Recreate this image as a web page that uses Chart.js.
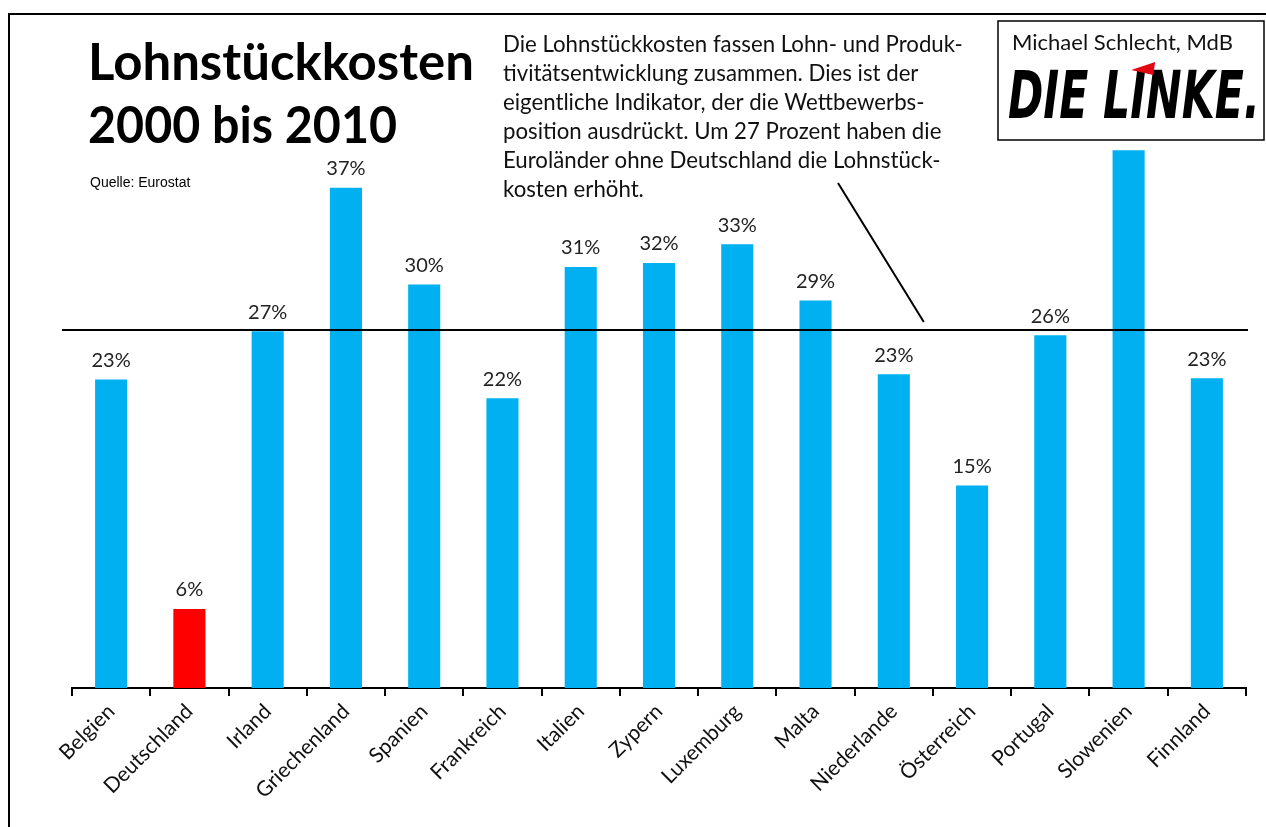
<!DOCTYPE html>
<html>
<head>
<meta charset="utf-8">
<script src="https://cdn.jsdelivr.net/npm/chart.js@4/dist/chart.umd.min.js"></script>
<style>
  html, body { margin: 0; padding: 0; background: #fff; }
  canvas { display: block; }
</style>
</head>
<body>
<canvas id="chart" width="1266" height="827"></canvas>
<script>
// data (percent change 2000-2010)
const countries = ['Belgien', 'Deutschland', 'Irland', 'Griechenland', 'Spanien', 'Frankreich', 'Italien',
    'Zypern', 'Luxemburg', 'Malta', 'Niederlande', 'Österreich', 'Portugal', 'Slowenien', 'Finnland'];
const costIncrease = [23.0, 5.9, 26.6, 37.3, 30.1, 21.6, 31.4, 31.7, 33.1, 28.9, 23.4, 15.1, 26.3, 40.1, 23.1];
const euroAverage = 26.7;   // Euroländer ohne Deutschland
const highlighted = 'Deutschland';

const titleLines = ['Lohnstückkosten', '2000 bis 2010'];
const sourceText = 'Quelle: Eurostat';
const noteLines = [
    'Die Lohnstückkosten fassen Lohn- und Produk-',
    'tivitätsentwicklung zusammen. Dies ist der',
    'eigentliche Indikator, der die Wettbewerbs-',
    'position ausdrückt. Um 27 Prozent haben die',
    'Euroländer ohne Deutschland die Lohnstück-',
    'kosten erhöht.'
];
const authorText = 'Michael Schlecht, MdB';
const partyText = 'DIE LINKE.';

const BLUE = '#00B0F0';
const RED = '#FF0000';
const FONT = 'Lato';

// fit a font size so that text gets a wanted width
function fitFont(ctx, text, style, family, width) {
    ctx.font = style + ' 100px ' + family;
    var w = ctx.measureText(text).width;
    return 100 * width / w;
}

const decor = {
    id: 'decor',
    beforeDraw(chart) {
        var ctx = chart.ctx;
        ctx.save();
        ctx.fillStyle = '#fff';
        ctx.fillRect(0, 0, chart.width, chart.height);
        // outer frame
        ctx.strokeStyle = '#000';
        ctx.lineWidth = 2;
        ctx.beginPath();
        ctx.moveTo(9, chart.height);
        ctx.lineTo(9, 14);
        ctx.lineTo(chart.width, 14);
        ctx.stroke();

        // title
        ctx.fillStyle = '#000';
        ctx.textBaseline = 'alphabetic';
        var ts = fitFont(ctx, titleLines[0], 'bold', FONT, 386);
        ctx.font = 'bold ' + ts + 'px ' + FONT;
        ctx.fillText(titleLines[0], 88, 80);
        ctx.save();
        ctx.translate(88, 143);
        ctx.scale(0.95, 1);
        ctx.fillText(titleLines[1], 0, 0);
        ctx.restore();

        ctx.font = '14px "Liberation Sans"';
        ctx.fillText(sourceText, 90, 187);

        // note text
        var ns = fitFont(ctx, noteLines[0], 'normal', FONT, 460);
        ctx.font = ns + 'px ' + FONT;
        ctx.fillStyle = '#111';
        noteLines.forEach(function (l, i) {
            ctx.fillText(l, 503, 52 + i * 29);
        });
        ctx.restore();
    },
    afterDatasetsDraw(chart) {
        var ctx = chart.ctx;
        var x = chart.scales.x, y = chart.scales.y;
        var area = chart.chartArea;
        ctx.save();

        // average line
        var ya = y.getPixelForValue(euroAverage);
        ctx.strokeStyle = '#000';
        ctx.lineWidth = 2;
        ctx.beginPath();
        ctx.moveTo(area.left - 10, ya);
        ctx.lineTo(area.right + 2, ya);
        ctx.stroke();

        // pointer from the note to the line
        var px = x.getPixelForValue(10) + 30;
        ctx.beginPath();
        ctx.moveTo(838, 183);
        ctx.lineTo(px, ya - 8);
        ctx.stroke();

        // value labels
        ctx.font = '20px ' + FONT;
        ctx.fillStyle = '#222';
        ctx.textAlign = 'center';
        ctx.textBaseline = 'bottom';
        var meta = chart.getDatasetMeta(0);
        meta.data.forEach(function (bar, i) {
            ctx.fillText(Math.round(costIncrease[i]) + '%', bar.x, bar.y - 9);
        });
        ctx.restore();
    },
    afterDraw(chart) {
        var ctx = chart.ctx;
        ctx.save();
        // logo box
        ctx.fillStyle = '#fff';
        ctx.fillRect(998, 21, 266, 119);
        ctx.strokeStyle = '#000';
        ctx.lineWidth = 1.5;
        ctx.strokeRect(998, 21, 266, 119);

        ctx.fillStyle = '#111';
        ctx.textBaseline = 'alphabetic';
        var as = fitFont(ctx, authorText, 'normal', FONT, 221);
        ctx.font = as + 'px ' + FONT;
        ctx.fillText(authorText, 1012, 50);

        // party name, squeezed to width
        ctx.font = 'italic bold 66px "DejaVu Sans"';
        var w = ctx.measureText(partyText).width;
        var sx = 252 / w;
        ctx.translate(1008, 118);
        ctx.scale(sx, 1);
        ctx.fillStyle = '#000';
        ctx.fillText(partyText, 0, 0);
        ctx.restore();

        // red flag over the I of LINKE
        ctx.save();
        ctx.font = 'italic bold 66px "DejaVu Sans"';
        var before = ctx.measureText('DIE L').width * sx;
        var iw = ctx.measureText('I').width * sx;
        var cx = 1008 + before + iw * 0.5 + 6;
        ctx.fillStyle = '#E30613';
        ctx.beginPath();
        ctx.moveTo(cx - 13, 70);
        ctx.lineTo(cx + 11, 62);
        ctx.lineTo(cx + 9, 75);
        ctx.closePath();
        ctx.fill();
        ctx.restore();
    }
};

function draw() {
    var colors = countries.map(function (c) { return c === highlighted ? RED : BLUE; });
    new Chart(document.getElementById('chart'), {
        type: 'bar',
        data: {
            labels: countries,
            datasets: [{
                data: costIncrease,
                backgroundColor: colors,
                borderWidth: 0,
                categoryPercentage: 1,
                barPercentage: 0.41
            }]
        },
        options: {
            responsive: false,
            animation: false,
            layout: { padding: { top: 98, left: 72, right: 20, bottom: 0 } },
            plugins: { legend: { display: false }, tooltip: { enabled: false }, title: { display: false } },
            scales: {
                x: {
                    grid: { display: true, drawOnChartArea: false, drawTicks: true, tickLength: 8, color: '#000', lineWidth: 2, offset: true },
                    border: { display: true, color: '#000', width: 2 },
                    ticks: { autoSkip: false, minRotation: 45, maxRotation: 45, padding: 3, color: '#111', font: { family: FONT, size: 21 } },
                    afterFit: function (scale) { scale.height = 139; }
                },
                y: {
                    display: false,
                    min: 0,
                    max: 44
                }
            }
        },
        plugins: [decor]
    });
}

document.fonts.load('19px Lato').then(function () {
    return document.fonts.load('bold 40px Lato');
}).then(draw, draw);
</script>
</body>
</html>
